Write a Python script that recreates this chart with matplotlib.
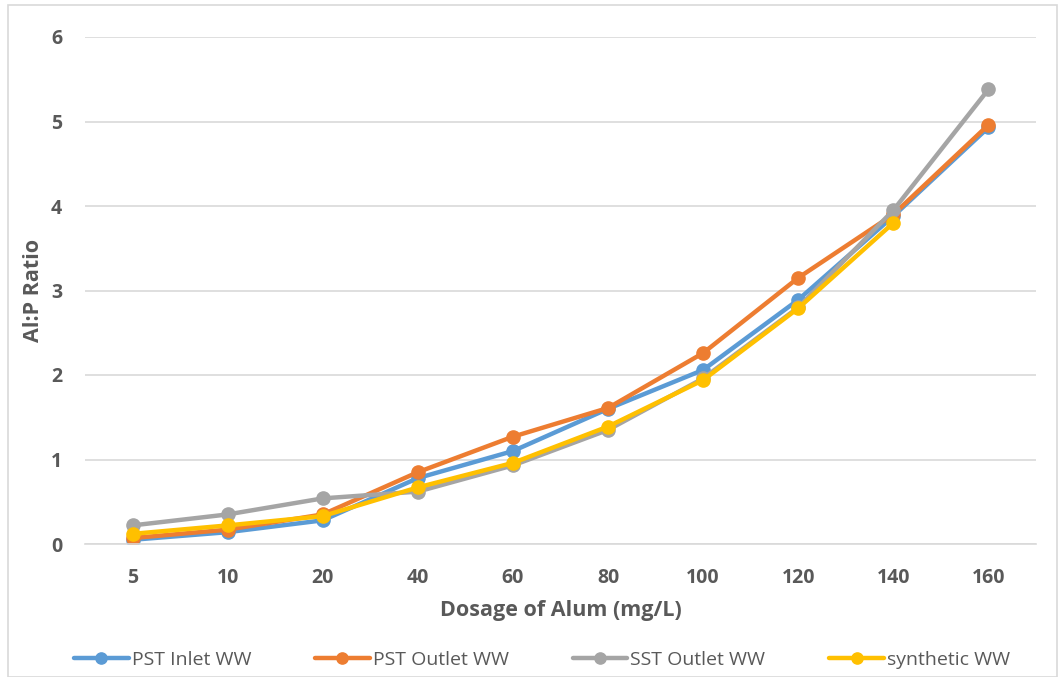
import matplotlib
matplotlib.use("Agg")
import matplotlib.pyplot as plt
from matplotlib.patches import Rectangle

dosage = ["5", "10", "20", "40", "60", "80", "100", "120", "140", "160"]
pst_inlet = [0.05, 0.14, 0.28, 0.78, 1.10, 1.60, 2.06, 2.89, 3.88, 4.93]
pst_outlet = [0.07, 0.17, 0.35, 0.85, 1.27, 1.61, 2.26, 3.15, 3.90, 4.96]
sst_outlet = [0.22, 0.35, 0.54, 0.62, 0.93, 1.35, 1.96, 2.80, 3.95, 5.38]
synthetic = [0.12, 0.22, 0.33, 0.67, 0.96, 1.39, 1.94, 2.79, 3.80]

series = [
    ("PST Inlet WW", pst_inlet, "#5B9BD5"),
    ("PST Outlet WW", pst_outlet, "#ED7D31"),
    ("SST Outlet WW", sst_outlet, "#A5A5A5"),
    ("synthetic WW", synthetic, "#FFC000"),
]

plt.rcParams['font.family'] = ['Open Sans', 'DejaVu Sans']

fig = plt.figure(figsize=(10.61, 6.77), dpi=100)
ax = fig.add_axes([85/1061, 1-544/677, 951/1061, 507/677])

x = list(range(len(dosage)))
for name, vals, col in series:
    ax.plot(x[:len(vals)], vals, color=col, lw=3.2, marker='o', ms=9.5,
            label=name, solid_capstyle='round', solid_joinstyle='round')

ax.set_xlim(-0.5, len(dosage) - 0.5)
ax.set_ylim(0, 6)
ax.set_yticks(range(0, 7))
ax.set_xticks(x)
ax.set_xticklabels(dosage)
ax.grid(axis='y', color='#D9D9D9', lw=1.2)
ax.set_axisbelow(True)
for s in ['top', 'right', 'left']:
    ax.spines[s].set_visible(False)
ax.spines['bottom'].set_color('#D9D9D9')
ax.spines['bottom'].set_linewidth(1.2)
ax.tick_params(axis='both', length=0, labelsize=14, labelcolor='#595959')
for lab in ax.get_xticklabels() + ax.get_yticklabels():
    lab.set_fontweight('bold')
ax.tick_params(axis='y', pad=16.5)
ax.tick_params(axis='x', pad=17)

ax.set_xlabel("Dosage of Alum (mg/L)", fontsize=15.5, fontweight='bold', color='#595959', labelpad=9)
ax.set_ylabel("Al:P Ratio", fontsize=15.5, fontweight='bold', color='#595959', labelpad=5)

leg = fig.legend(loc='center', bbox_to_anchor=(542/1061, 1-660/677), ncol=4, frameon=False,
                 fontsize=14, handlelength=2.8, columnspacing=3.3, handletextpad=0.15,
                 labelcolor='#595959', markerscale=0.85)

fig.patches.append(Rectangle((8/1061, 0), 1049/1061, 1-5/677, transform=fig.transFigure,
                             fill=False, edgecolor='#D9D9D9', lw=1.2))

fig.savefig("out.png", dpi=100)
